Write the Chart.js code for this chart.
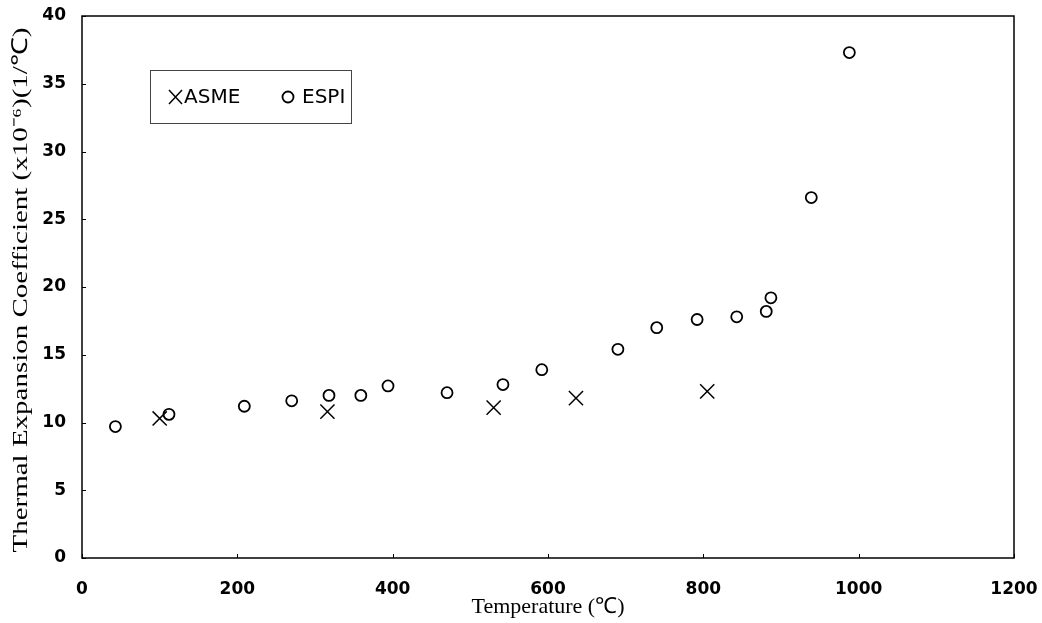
<!DOCTYPE html>
<html>
<head>
<meta charset="utf-8">
<script src="https://cdn.jsdelivr.net/npm/chart.js@4.4.0/dist/chart.umd.min.js"></script>
<style>
  html, body { margin: 0; padding: 0; background: #fff; }
</style>
</head>
<body>
<canvas id="chart" width="1042" height="623"></canvas>
<script>
// ASME reference values
const asmeTemp = [100, 316, 530, 636, 805];
const asmeCoef = [10.3, 10.8, 11.1, 11.8, 12.3];

// ESPI measured values
const espiTemp = [43, 112, 209, 270, 318, 359, 394, 470, 542, 592, 690, 740, 792, 843, 881, 887, 939, 988];
const espiCoef = [9.7, 10.6, 11.2, 11.6, 12.0, 12.0, 12.7, 12.2, 12.8, 13.9, 15.4, 17.0, 17.6, 17.8, 18.2, 19.2, 26.6, 37.3];

// Axis ranges and text
const xRange = [0, 1200];
const xStep = 200;
const yRange = [0, 40];
const yStep = 5;
const xTitle = 'Temperature (\u2103)';
const yTitle = 'Thermal Expansion Coefficient (x10\u207B\u2076)(1/\u2103)';
const legendLabels = ['ASME', 'ESPI'];

const toPoints = (xs, ys) => xs.map((x, i) => ({ x: x, y: ys[i] }));

// Box around the plot plus small inward tick marks
const framePlugin = {
    id: 'frame',
    afterDraw(chart) {
        const { ctx, chartArea: a, scales } = chart;
        ctx.save();
        ctx.strokeStyle = '#000';
        ctx.lineWidth = 1.5;
        ctx.strokeRect(a.left, a.top, a.right - a.left, a.bottom - a.top);
        ctx.lineWidth = 1;
        scales.x.ticks.forEach(t => {
            const px = Math.round(scales.x.getPixelForValue(t.value)) + 0.5;
            ctx.beginPath();
            ctx.moveTo(px, a.bottom);
            ctx.lineTo(px, a.bottom - 4);
            ctx.stroke();
        });
        scales.y.ticks.forEach(t => {
            const py = Math.round(scales.y.getPixelForValue(t.value)) + 0.5;
            ctx.beginPath();
            ctx.moveTo(a.left, py);
            ctx.lineTo(a.left + 4, py);
            ctx.stroke();
        });
        ctx.restore();
    }
};

// Axis titles in a serif face, the y one stretched along its length like the scan
const titlePlugin = {
    id: 'axisTitles',
    afterDraw(chart) {
        const { ctx, chartArea: a } = chart;
        ctx.save();
        ctx.fillStyle = '#000';
        ctx.font = '22px "Liberation Serif", "Times New Roman", serif';
        ctx.textAlign = 'center';
        ctx.textBaseline = 'middle';
        ctx.fillText(xTitle, 548, 607);

        const w = ctx.measureText(yTitle).width;
        const stretch = 525 / w;
        ctx.translate(21, 290);
        ctx.rotate(-Math.PI / 2);
        ctx.scale(stretch, 1);
        ctx.fillText(yTitle, 0, 0);
        ctx.restore();
    }
};

// Boxed legend inside the plot, top left
const legendPlugin = {
    id: 'boxLegend',
    afterDraw(chart) {
        const { ctx } = chart;
        ctx.save();
        ctx.strokeStyle = '#444';
        ctx.lineWidth = 1;
        ctx.strokeRect(150.5, 70.5, 201, 53);

        // ASME cross
        ctx.strokeStyle = '#000';
        ctx.lineWidth = 1.5;
        ctx.beginPath();
        ctx.moveTo(169, 90); ctx.lineTo(182, 104);
        ctx.moveTo(182, 90); ctx.lineTo(169, 104);
        ctx.stroke();

        // ESPI circle
        ctx.lineWidth = 1.8;
        ctx.beginPath();
        ctx.arc(288, 97, 5.5, 0, Math.PI * 2);
        ctx.stroke();

        ctx.fillStyle = '#000';
        ctx.font = '20px "DejaVu Sans", Verdana, sans-serif';
        ctx.textBaseline = 'middle';
        ctx.fillText(legendLabels[0], 184, 98);
        ctx.fillText(legendLabels[1], 302, 98);
        ctx.restore();
    }
};

const tickFont = { family: '"DejaVu Sans", Verdana, sans-serif', size: 17, weight: 'bold' };

const ctx = document.getElementById('chart').getContext('2d');
const chart = new Chart(ctx, {
    type: 'scatter',
    data: {
        datasets: [{
            label: legendLabels[0],
            data: toPoints(asmeTemp, asmeCoef),
            pointStyle: 'crossRot',
            pointRadius: 10,
            pointBorderWidth: 1.5,
            borderColor: '#000',
            backgroundColor: 'rgba(0,0,0,0)'
        }, {
            label: legendLabels[1],
            data: toPoints(espiTemp, espiCoef),
            pointStyle: 'circle',
            pointRadius: 5.5,
            pointBorderWidth: 1.8,
            borderColor: '#000',
            backgroundColor: 'rgba(0,0,0,0)'
        }]
    },
    options: {
        responsive: false,
        animation: false,
        devicePixelRatio: 1,
        layout: { padding: { top: 16, right: 28, left: 0, bottom: 0 } },
        plugins: {
            legend: { display: false },
            tooltip: { enabled: false }
        },
        scales: {
            x: {
                type: 'linear',
                min: xRange[0],
                max: xRange[1],
                grid: { display: false, drawTicks: false },
                border: { display: false },
                ticks: {
                    stepSize: xStep, color: '#000', font: tickFont, padding: 21, maxRotation: 0,
                    callback: v => String(v)
                },
                afterFit: s => { s.height = 65; s.paddingLeft = 0; s.paddingRight = 0; }
            },
            y: {
                min: yRange[0],
                max: yRange[1],
                grid: { display: false, drawTicks: false },
                border: { display: false },
                ticks: { stepSize: yStep, color: '#000', font: tickFont, padding: 16 },
                afterFit: s => { s.width = 82; s.paddingTop = 0; s.paddingBottom = 0; }
            }
        }
    },
    plugins: [framePlugin, titlePlugin, legendPlugin]
});
</script>
</body>
</html>
